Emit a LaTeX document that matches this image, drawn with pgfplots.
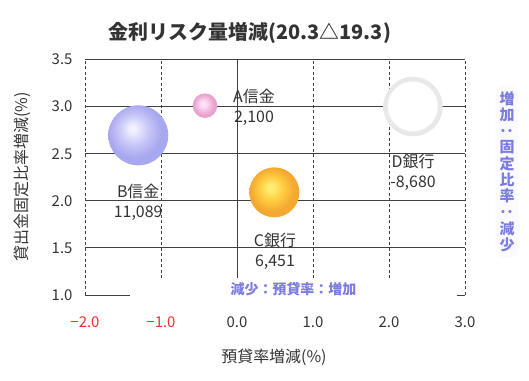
\documentclass[border=0pt]{standalone}
\usepackage{pgfplots}
\pgfplotsset{compat=1.18}
\usepackage{fontspec}
\setmainfont{Noto Sans CJK JP}
\usepackage{graphicx}
\definecolor{gridc}{HTML}{404040}
\definecolor{txt}{HTML}{333333}
\definecolor{lblue}{HTML}{7B7BE0}
\definecolor{negred}{HTML}{F03030}
\definecolor{bBc}{HTML}{F2F2FF}
\definecolor{bBm}{HTML}{C8C8F8}
\definecolor{bBe}{HTML}{A8A8F0}
\definecolor{bAc}{HTML}{FCE0F6}
\definecolor{bAm}{HTML}{F4C0E4}
\definecolor{bAe}{HTML}{E8A2CC}
\definecolor{bCc}{HTML}{FFEC70}
\definecolor{bCm}{HTML}{FFCC40}
\definecolor{bCe}{HTML}{F5A830}
\definecolor{bDr}{HTML}{E8E8E8}
\pgfdeclareradialshading{shB}{\pgfpoint{-5bp}{6bp}}{color(0bp)=(bBc); color(2bp)=(bBc); color(12bp)=(bBm); color(22bp)=(bBe); color(50bp)=(bBe)}
\pgfdeclareradialshading{shA}{\pgfpoint{-4bp}{4bp}}{color(0bp)=(bAc); color(5bp)=(bAc); color(13bp)=(bAm); color(21bp)=(bAe); color(50bp)=(bAe)}
\pgfdeclareradialshading{shC}{\pgfpoint{-4bp}{5bp}}{color(0bp)=(bCc); color(3bp)=(bCc); color(12bp)=(bCm); color(22bp)=(bCe); color(50bp)=(bCe)}
\pgfdeclareradialshading{shD}{\pgfpoint{-1bp}{1bp}}{color(0bp)=(white); color(20.5bp)=(white); color(21.5bp)=(bDr); color(50bp)=(bDr)}
\pgfdeclareplotmark{bubA}{\pgfpathcircle{\pgfpointorigin}{\pgfplotmarksize}\pgfshadepath{shA}{0}\pgfusepath{}}
\pgfdeclareplotmark{bubB}{\pgfpathcircle{\pgfpointorigin}{\pgfplotmarksize}\pgfshadepath{shB}{0}\pgfusepath{}}
\pgfdeclareplotmark{bubC}{\pgfpathcircle{\pgfpointorigin}{\pgfplotmarksize}\pgfshadepath{shC}{0}\pgfusepath{}}
\pgfdeclareplotmark{bubD}{\pgfpathcircle{\pgfpointorigin}{\pgfplotmarksize}\pgfshadepath{shD}{0}\pgfusepath{}}
\begin{document}
\begin{tikzpicture}
\useasboundingbox (0,0) rectangle (529bp,381bp);
\begin{axis}[
  at={(85bp,86bp)}, anchor=south west,
  scale only axis, width=380bp, height=235.5bp,
  xmin=-2, xmax=3, ymin=1, ymax=3.5,
  axis line style={draw=none},
  major tick length=0pt,
  xtick={-2,-1,0,1,2,3},
  xticklabels={\textcolor{negred}{−2.0},\textcolor{negred}{−1.0},0.0,1.0,2.0,3.0},
  ytick={1,1.5,2,2.5,3,3.5},
  yticklabels={1.0,1.5,2.0,2.5,3.0,3.5},
  ticklabel style={font=\fontsize{15}{17}\selectfont, text=txt},
  xticklabel style={yshift=-18bp},
  yticklabel style={xshift=-9bp},
  xmajorgrids, ymajorgrids,
  x grid style={gridc, line width=0.8bp, dash pattern=on 3bp off 2.5bp},
  y grid style={gridc, line width=0.8bp, solid},
  extra x ticks={0}, extra x tick labels={},
  extra x tick style={grid=major, x grid style={gridc, line width=0.8bp, solid}},
  clip=false,
]
\addplot[only marks, mark=bubB, mark size=30bp] coordinates {(-1.299,2.695)};
\addplot[only marks, mark=bubA, mark size=12.3bp] coordinates {(-0.421,3.01)};
\addplot[only marks, mark=bubC, mark size=25bp] coordinates {(0.491,2.09)};
\addplot[only marks, mark=bubD, mark size=29.7bp] coordinates {(2.316,3.0)};
\begin{scope}[every node/.style={align=center, text=txt, font=\fontsize{16}{20}\selectfont}]
\node at (axis cs:0.224,2.99) {A信金\\2,100};
\node at (axis cs:-1.30,1.98) {B信金\\11,089};
\node at (axis cs:0.50,1.467) {C銀行\\6,451};
\node at (axis cs:2.316,2.30) {D銀行\\-8,680};
\end{scope}
\end{axis}
\node[fill=white, inner sep=0pt, minimum width=327bp, minimum height=22bp, text=lblue, font=\bfseries\fontsize{14}{16}\selectfont] at (293.5bp,92bp) {減少：預貸率：増加};
\node[fill=blue!2, rounded corners=8bp, inner xsep=4bp, inner ysep=6bp, align=center, text=lblue, font=\bfseries\fontsize{15}{16.3}\selectfont] at (507bp,209.5bp) {増\\加\\\rotatebox[origin=c]{90}{：}\\固\\定\\比\\率\\\rotatebox[origin=c]{90}{：}\\減\\少};
\node[text=txt, font=\bfseries\fontsize{20}{24}\selectfont] at (250bp,348bp) {金利リスク量増減(20.3△19.3)};
\node[text=txt, rotate=90, font=\fontsize{16}{18}\selectfont] at (22bp,204bp) {貸出金固定比率増減(\%)};
\node[text=txt, font=\fontsize{16}{18}\selectfont] at (274bp,24bp) {預貸率増減(\%)};
\end{tikzpicture}
\end{document}
